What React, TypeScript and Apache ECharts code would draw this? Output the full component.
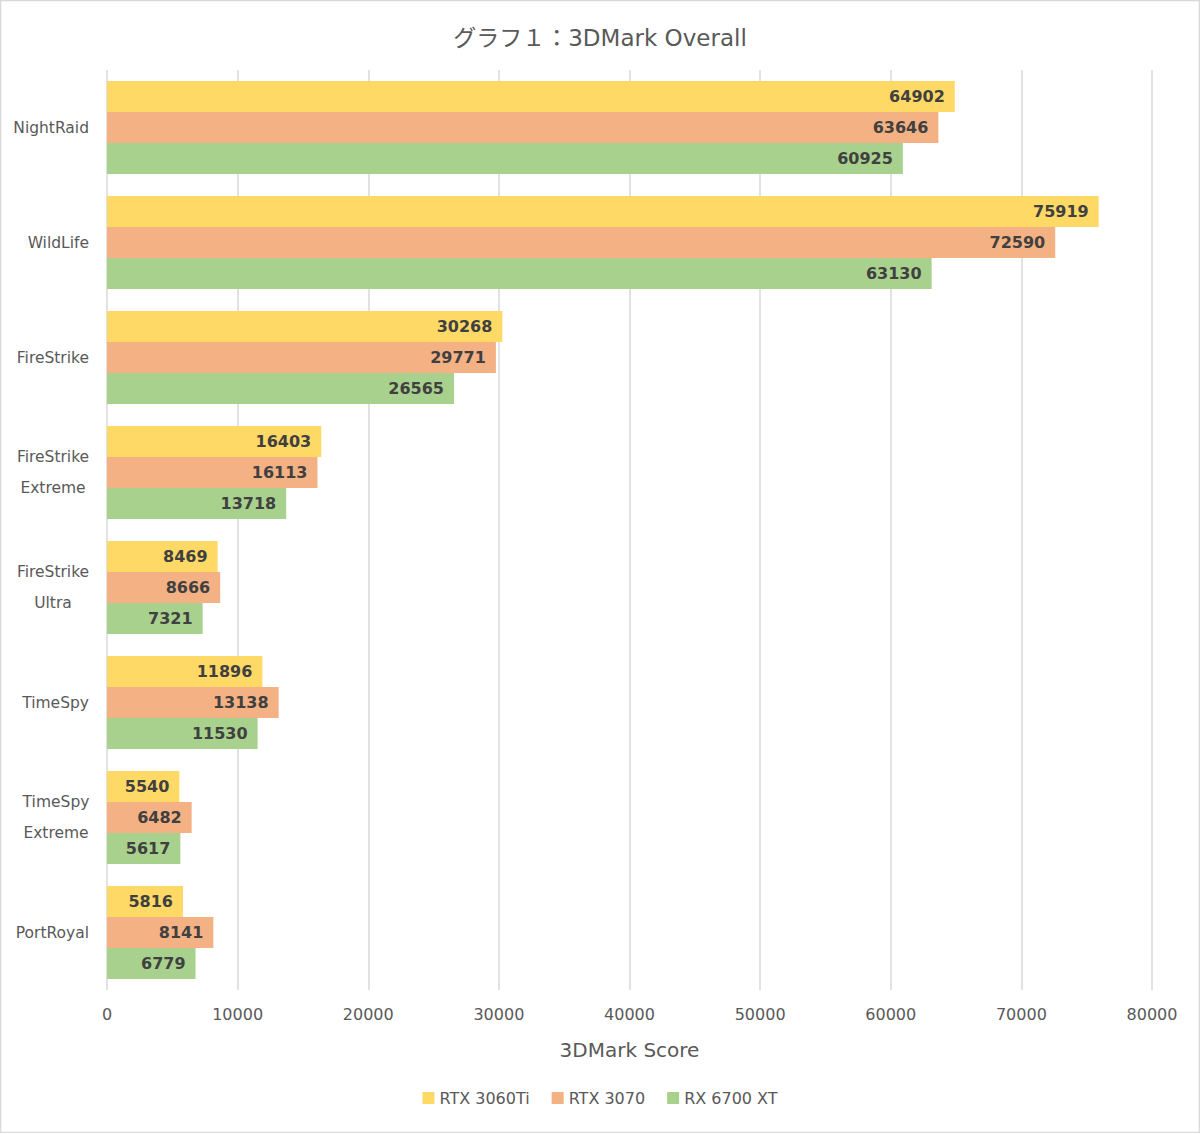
import React, { useEffect, useRef } from "react";
import * as echarts from "echarts";

const categories = [
  "NightRaid",
  "WildLife",
  "FireStrike",
  "FireStrike\nExtreme",
  "FireStrike\nUltra",
  "TimeSpy",
  "TimeSpy\nExtreme",
  "PortRoyal",
];
const rtx3060ti = [64902, 75919, 30268, 16403, 8469, 11896, 5540, 5816];
const rtx3070 = [63646, 72590, 29771, 16113, 8666, 13138, 6482, 8141];
const rx6700xt = [60925, 63130, 26565, 13718, 7321, 11530, 5617, 6779];
const seriesNames = ["RTX 3060Ti", "RTX 3070", "RX 6700 XT"];
const colors = ["#FFD966", "#F4B183", "#A9D18E"];

const FONT = "'DejaVu Sans', 'Noto Sans CJK JP', sans-serif";

export default function App() {
  const ref = useRef<HTMLDivElement>(null);
  useEffect(() => {
    if (!ref.current) return;
    const chart = echarts.init(ref.current, null, { renderer: "svg" });
    const data = [rtx3060ti, rtx3070, rx6700xt];
    chart.setOption({
      animation: false,
      backgroundColor: "#ffffff",
      title: {
        text: "グラフ１：3DMark Overall",
        left: "center",
        top: 21,
        textStyle: { color: "#595959", fontSize: 23, fontWeight: "normal", fontFamily: FONT },
      },
      legend: {
        bottom: 22,
        left: "center",
        itemWidth: 12,
        itemHeight: 12,
        itemGap: 22,
        icon: "rect",
        textStyle: { color: "#595959", fontSize: 16, fontFamily: FONT },
        data: seriesNames,
      },
      grid: { left: 107, right: 48, top: 70, bottom: 143, containLabel: false },
      xAxis: {
        type: "value",
        min: 0,
        max: 80000,
        interval: 10000,
        name: "3DMark Score",
        nameLocation: "middle",
        nameGap: 50,
        nameTextStyle: { color: "#595959", fontSize: 20, fontFamily: FONT },
        axisLine: { show: false },
        axisTick: { show: false },
        axisLabel: {
          color: "#595959",
          fontSize: 16,
          margin: 16,
          fontFamily: FONT,
          formatter: (v: number) => String(v),
        },
        splitLine: { show: true, lineStyle: { color: "#d9d9d9", width: 1.5 } },
      },
      yAxis: {
        type: "category",
        inverse: true,
        data: categories,
        axisLine: { show: false },
        axisTick: { show: false },
        axisLabel: {
          color: "#595959",
          fontSize: 15.5,
          fontFamily: FONT,
          margin: 18,
          lineHeight: 31,
          formatter: (v: string) => {
            if (v.indexOf("\n") < 0) return v;
            const parts = v.split("\n");
            const key = parts[0] === "TimeSpy" ? "t" : "f";
            return parts.map((p) => `{${key}|${p}}`).join("\n");
          },
          rich: {
            f: { width: 72, align: "center", color: "#595959", fontSize: 15.5, fontFamily: FONT, lineHeight: 31 },
            t: { width: 66, align: "center", color: "#595959", fontSize: 15.5, fontFamily: FONT, lineHeight: 31 },
          },
        },
      },
      series: seriesNames.map((name, i) => ({
        name,
        type: "bar",
        data: data[i],
        barGap: "0%",
        barCategoryGap: "19%",
        itemStyle: { color: colors[i] },
        label: {
          show: true,
          position: "insideRight",
          distance: 10,
          color: "#404040",
          fontWeight: "bold",
          fontSize: 16,
          fontFamily: FONT,
        },
      })),
      graphic: [
        {
          type: "rect",
          shape: { x: 0.5, y: 0.5, width: 1199, height: 1132 },
          style: { fill: "none", stroke: "#d9d9d9", lineWidth: 1.5 },
          silent: true,
        },
      ],
    });
    return () => chart.dispose();
  }, []);
  return (
    <div
      ref={ref}
      style={{ position: "absolute", left: 0, top: 0, width: 1200, height: 1133 }}
    />
  );
}
